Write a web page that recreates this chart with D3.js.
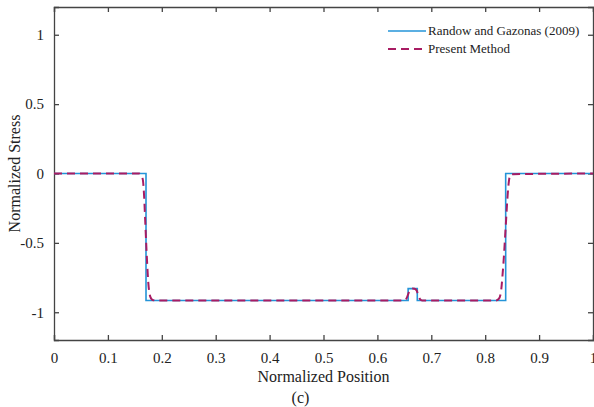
<!DOCTYPE html>
<html><head><meta charset="utf-8">
<script src="https://cdn.jsdelivr.net/npm/d3@7"></script>
<style>body{margin:0;background:#fff}svg{display:block}svg text{font-family:'Liberation Serif','Times New Roman',Times,serif !important}</style>
</head><body><svg id="c" width="594" height="407"></svg>
<script>
const xTicks = [0,0.1,0.2,0.3,0.4,0.5,0.6,0.7,0.8,0.9,1];
const yTicks = [-1,-0.5,0,0.5,1];
const seriesNames = ["Randow and Gazonas (2009)","Present Method"];
// Reference solution (step)
const refX = [0,0.1707,0.1707,0.657,0.657,0.674,0.674,0.838,0.838,1];
const refY = [0,0,-0.915,-0.915,-0.83,-0.83,-0.915,-0.915,0,0];
// Present method
const presX = [0,0.158,0.162,0.165,0.167,0.169,0.171,0.173,0.175,0.177,0.180,0.184,0.19,0.65,0.654,0.658,0.661,0.665,0.669,0.673,0.676,0.679,0.683,0.82,0.825,0.829,0.832,0.835,0.837,0.839,0.841,0.843,0.845,0.848,1];
const presY = [0,0,-0.01,-0.05,-0.15,-0.32,-0.5,-0.66,-0.79,-0.86,-0.9,-0.913,-0.915,-0.915,-0.9,-0.86,-0.835,-0.828,-0.83,-0.845,-0.88,-0.905,-0.915,-0.915,-0.905,-0.86,-0.74,-0.58,-0.45,-0.32,-0.19,-0.09,-0.03,-0.005,0];

const FONT = "'Liberation Serif','Times New Roman',Times,serif";
const svg = d3.select("#c");
const m = {l:54,r:1,t:7,b:67};
const W = 594, H = 407;
const x = d3.scaleLinear().domain([0,1]).range([m.l, W-m.r]);
const y = d3.scaleLinear().domain([-1.2,1.2]).range([H-m.b, m.t]);
const axCol = "#444";

const fmt = d => String(d);
const gx = svg.append("g").attr("transform",`translate(0,${y(-1.2)})`)
  .call(d3.axisBottom(x).tickValues(xTicks).tickSize(-5).tickPadding(12).tickFormat(fmt));
const gxt = svg.append("g").attr("transform",`translate(0,${y(1.2)})`)
  .call(d3.axisTop(x).tickValues(xTicks).tickSize(-5).tickFormat(""));
const gy = svg.append("g").attr("transform",`translate(${x(0)},0)`)
  .call(d3.axisLeft(y).tickValues(yTicks).tickSize(-5).tickPadding(10).tickFormat(fmt));
const gyr = svg.append("g").attr("transform",`translate(${x(1)},0)`)
  .call(d3.axisRight(y).tickValues(yTicks).tickSize(-5).tickFormat(""));
[gx,gxt,gy,gyr].forEach(g=>{
  g.attr("font-family",FONT);
  g.selectAll("path").attr("stroke",axCol).attr("stroke-width",1.3);
  g.selectAll("line").attr("stroke",axCol).attr("stroke-width",1.3);
  g.selectAll("text").attr("font-size",15).attr("fill","#222");
});

const line = d3.line().x(d=>x(d[0])).y(d=>y(d[1]));
svg.append("path").datum(refX.map((v,i)=>[v,refY[i]])).attr("d",line)
  .attr("fill","none").attr("stroke","#2494d8").attr("stroke-width",1.6);
svg.append("path").datum(presX.map((v,i)=>[v,presY[i]])).attr("d",d3.line().x(d=>x(d[0])).y(d=>y(d[1])).curve(d3.curveMonotoneX))
  .attr("fill","none").attr("stroke","#a81c63").attr("stroke-width",2).attr("stroke-dasharray","8,5");

// legend
const lg = svg.append("g").attr("font-family",FONT);
lg.append("line").attr("x1",388).attr("x2",426).attr("y1",31).attr("y2",31).attr("stroke","#2494d8").attr("stroke-width",1.3);
lg.append("line").attr("x1",388).attr("x2",426).attr("y1",49).attr("y2",49).attr("stroke","#a81c63").attr("stroke-width",2).attr("stroke-dasharray","8,5");
lg.append("text").attr("x",428).attr("y",35).attr("font-size",13).attr("fill","#222").text(seriesNames[0]);
lg.append("text").attr("x",428).attr("y",53).attr("font-size",13).attr("fill","#222").text(seriesNames[1]);

svg.append("text").attr("x",(x(0)+x(1))/2).attr("y",382).attr("text-anchor","middle").attr("font-size",16).attr("fill","#222").text("Normalized Position");
svg.append("text").attr("x",(x(0)+x(1))/2 - 23).attr("y",403).attr("text-anchor","middle").attr("font-size",16).attr("fill","#222").text("(c)");
svg.append("text").attr("transform",`translate(20,${y(0)}) rotate(-90)`).attr("text-anchor","middle").attr("font-size",16).attr("fill","#222").text("Normalized Stress");
</script></body></html>
